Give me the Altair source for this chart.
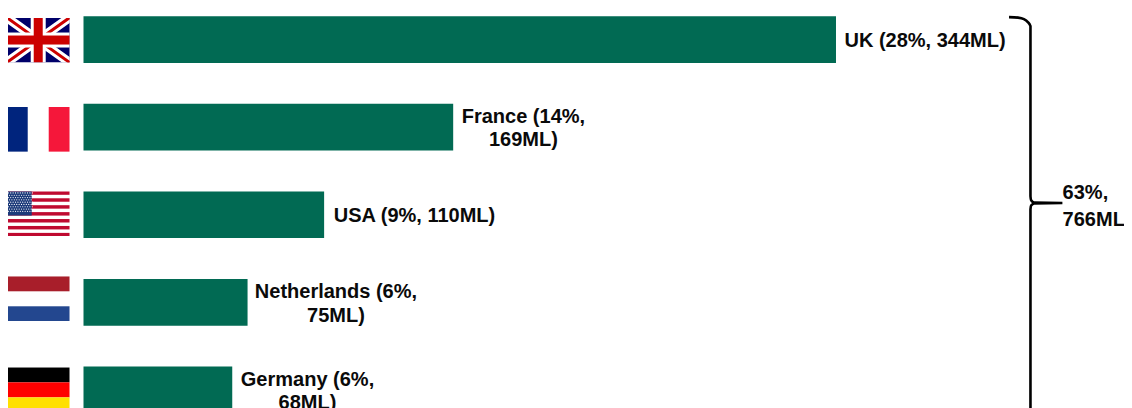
import base64
import altair as alt
import pandas as pd

# --- chart values -----------------------------------------------------------
countries = ["UK", "France", "USA", "Netherlands", "Germany"]
volumes_ml = [344, 169, 110, 75, 68]
labels = ["UK (28%, 344ML)", "France (14%,\n169ML)", "USA (9%, 110ML)",
          "Netherlands (6%,\n75ML)", "Germany (6%,\n68ML)"]
rows = [0, 1, 2, 3, 4]
total_label = "63%,\n766ML"

# --- annotation placement, in data units (ML across, row index down) --------
label_center_ml = [384.7, 201.1, 151.3, 115.4, 102.4]
label_rows = [0.02, 0.883, 2.02, 2.883, 3.883]
flag_center_ml = [-20.7, -20.7, -20.7, -20.7, -20.7]
flag_rows = [0.005, 1.025, 1.99, 2.96, 4.0]
brace_ml = [423.1, 427.2, 429.9, 431.7, 432.9, 432.9, 433.2, 434.6, 447.5,
            434.6, 433.2, 432.9, 432.9]
brace_row = [-0.257, -0.251, -0.234, -0.2, -0.154, 1.789, 1.835, 1.862, 1.866,
             1.872, 1.895, 1.94, 4.35]
total_ml = [447.6]
total_row = [1.749]


# --- flag artwork -----------------------------------------------------------
def svg_uri(w, h, body):
    svg = (f'<svg xmlns="http://www.w3.org/2000/svg" width="{w}" height="{h}" '
           f'viewBox="0 0 {w} {h}" preserveAspectRatio="none">{body}</svg>')
    return "data:image/svg+xml;base64," + base64.b64encode(svg.encode()).decode()


def band(x, y, w, h, c):
    return f'<rect x="{x}" y="{y}" width="{w}" height="{h}" fill="{c}"/>'


uk = svg_uri(63, 45, (
    band(0, 0, 63, 45, "#00006a")
    + '<path d="M0 0L63 45M63 0L0 45" stroke="#fff" stroke-width="9"/>'
    + '<path d="M0 0L63 45M63 0L0 45" stroke="#cc0000" stroke-width="3"/>'
    + band(0, 15, 63, 15, "#fff") + band(24, 0, 15, 45, "#fff")
    + band(0, 18, 63, 9, "#cc0000") + band(27, 0, 9, 45, "#cc0000")))
fr = svg_uri(63, 45, band(0, 0, 21, 45, "#00247d") + band(42, 0, 21, 45, "#f5173a"))
stripes = "".join(band(0, i * 45 / 13, 63, 45 / 13, "#bf0a30") for i in range(0, 13, 2))
stars = "".join(
    f'<circle cx="{1.6 + 2.4 * c + (1.2 if r % 2 else 0)}" cy="{1.6 + 2.3 * r}" r="0.6" fill="#fff"/>'
    for r in range(9) for c in range(11 if r % 2 == 0 else 10))
us = svg_uri(63, 45, stripes + band(0, 0, 25, 24.2, "#1c3a7a") + stars)
nl = svg_uri(63, 45, band(0, 0, 63, 15, "#a81e2a") + band(0, 30, 63, 15, "#23478f"))
de = svg_uri(63, 45, band(0, 0, 63, 15, "#000") + band(0, 15, 63, 15, "#f00")
             + band(0, 30, 63, 15, "#ffe000"))
flags = [uk, fr, us, nl, de]

# --- tables -----------------------------------------------------------------
bars = pd.DataFrame({"country": countries, "ml": volumes_ml, "row": rows,
                     "label": labels, "label_ml": label_center_ml,
                     "label_row": label_rows})
flag_df = pd.DataFrame({"ml": flag_center_ml, "row": flag_rows, "flag": flags})
brace_df = pd.DataFrame({"ml": brace_ml, "row": brace_row,
                         "i": list(range(len(brace_ml)))})
total_df = pd.DataFrame({"ml": total_ml, "row": total_row, "label": [total_label]})

x_scale = alt.Scale(domain=[-34.514, 475.66], range=[0, 1116], nice=False, zero=False, padding=0)
y_scale = alt.Scale(domain=[-0.5, 4.5], range=[-12.2, 425.65], nice=False, zero=False, padding=0)
X = alt.X("ml:Q", scale=x_scale, axis=None)
Y = alt.Y("row:Q", scale=y_scale, axis=None)
FONT = "Liberation Sans"

bar_layer = alt.Chart(bars).mark_bar(orient="horizontal", size=46.7, color="#016a53").encode(x=X, y=Y)
flag_layer = alt.Chart(flag_df).mark_image(width=63, height=45, aspect=False).encode(
    x=X, y=Y, url=alt.Url("flag:N"))
label_layer = alt.Chart(bars).mark_text(
    font=FONT, fontWeight="bold", fontSize=20, color="#0a0a0a",
    align="center", baseline="middle", lineBreak="\n", lineHeight=23.5,
).encode(x=alt.X("label_ml:Q", scale=x_scale, axis=None),
         y=alt.Y("label_row:Q", scale=y_scale, axis=None), text="label:N")
brace_layer = alt.Chart(brace_df).mark_line(
    color="#000000", strokeWidth=2.6, interpolate="monotone", clip=False,
).encode(x=X, y=Y, order=alt.Order("i:Q"))
total_layer = alt.Chart(total_df).mark_text(
    font=FONT, fontWeight="bold", fontSize=20, color="#0a0a0a",
    align="left", baseline="middle", lineBreak="\n", lineHeight=27,
).encode(x=X, y=Y, text="label:N")

chart = alt.layer(bar_layer, flag_layer, brace_layer, label_layer, total_layer).properties(
    width=1116, height=400, padding=0,
    autosize=alt.AutoSizeParams(type="none"),
    background="#ffffff",
).configure_view(stroke=None)

chart.save("out.html", embed_options={"renderer": "svg", "actions": False})
